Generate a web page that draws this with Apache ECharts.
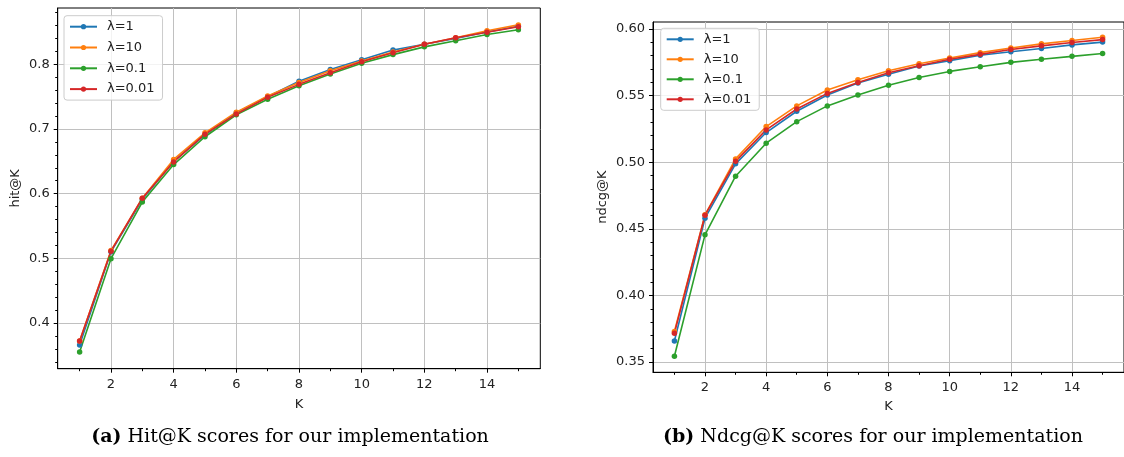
<!DOCTYPE html>
<html>
<head>
<meta charset="utf-8">
<script src="https://cdn.jsdelivr.net/npm/echarts@6/dist/echarts.min.js"></script>
<style>
html, body { margin: 0; padding: 0; background: #ffffff; }
#chart { width: 1124px; height: 457px; }
</style>
</head>
<body>
<div id="chart"></div>
<script>
// K values on the x axis
const kValues = [1, 2, 3, 4, 5, 6, 7, 8, 9, 10, 11, 12, 13, 14, 15];

// Series names (regularisation weight)
const seriesNames = ['λ=1', 'λ=10', 'λ=0.1', 'λ=0.01'];
const seriesColors = ['#1f77b4', '#ff7f0e', '#2ca02c', '#d62728'];

// hit@K per lambda
const hitLambda1   = [0.366, 0.510, 0.591, 0.650, 0.691, 0.725, 0.750, 0.774, 0.792, 0.807, 0.822, 0.831, 0.840, 0.850, 0.859];
const hitLambda10  = [0.372, 0.512, 0.593, 0.653, 0.694, 0.726, 0.751, 0.772, 0.790, 0.805, 0.819, 0.831, 0.841, 0.852, 0.861];
const hitLambda01  = [0.355, 0.4995, 0.587, 0.645, 0.688, 0.722, 0.746, 0.767, 0.785, 0.8015, 0.815, 0.827, 0.8365, 0.846, 0.8535];
const hitLambda001 = [0.372, 0.511, 0.593, 0.649, 0.692, 0.723, 0.749, 0.769, 0.787, 0.804, 0.818, 0.831, 0.841, 0.8495, 0.858];

// ndcg@K per lambda
const ndcgLambda1   = [0.3658, 0.458, 0.4988, 0.5223, 0.5383, 0.5505, 0.5595, 0.5661, 0.5722, 0.5763, 0.5803, 0.5830, 0.5854, 0.5881, 0.5902];
const ndcgLambda10  = [0.373, 0.4605, 0.5025, 0.5268, 0.5423, 0.5543, 0.5619, 0.5687, 0.5740, 0.5783, 0.5823, 0.5858, 0.5889, 0.5914, 0.5939];
const ndcgLambda01  = [0.3543, 0.4455, 0.4895, 0.5143, 0.5305, 0.5423, 0.5505, 0.5578, 0.5636, 0.5682, 0.5717, 0.5750, 0.5773, 0.5795, 0.5817];
const ndcgLambda001 = [0.3716, 0.4603, 0.5007, 0.5243, 0.5400, 0.5517, 0.5598, 0.5672, 0.5725, 0.5773, 0.5810, 0.5846, 0.5874, 0.5899, 0.5921];

// Tick positions and labels
const kTicks = [2, 4, 6, 8, 10, 12, 14];
const kTickLabels = ['2', '4', '6', '8', '10', '12', '14'];
const kMinorTicks = [1, 3, 5, 7, 9, 11, 13, 15];
const hitTicks = [0.4, 0.5, 0.6, 0.7, 0.8];
const hitTickLabels = ['0.4', '0.5', '0.6', '0.7', '0.8'];
const ndcgTicks = [0.35, 0.40, 0.45, 0.50, 0.55, 0.60];
const ndcgTickLabels = ['0.35', '0.40', '0.45', '0.50', '0.55', '0.60'];

// minor ticks between majors
function minorBetween(lo, hi, step, majors) {
  const out = [];
  const n = Math.round((hi - lo) / step);
  for (let i = 0; i <= n; i++) {
    const v = +(lo + i * step).toFixed(4);
    if (!majors.some(m => Math.abs(m - v) < 1e-6)) out.push(v);
  }
  return out;
}
const hitMinorTicks = minorBetween(0.34, 0.88, 0.02, hitTicks);
const ndcgMinorTicks = minorBetween(0.35, 0.60, 0.01, ndcgTicks);

const FONT = 'DejaVu Sans';
const SERIF = 'DejaVu Serif';
const TEXT_COLOR = '#222222';

function labelFor(ticks, labels) {
  return v => {
    const i = ticks.findIndex(t => Math.abs(t - v) < 1e-6);
    return i >= 0 ? labels[i] : '';
  };
}

function majorX(gridIndex, nameGap) {
  return {
    type: 'value', gridIndex, position: 'bottom', min: 0.3, max: 15.7,
    name: 'K', nameLocation: 'middle', nameGap,
    nameTextStyle: { fontFamily: FONT, fontSize: 13, color: TEXT_COLOR },
    axisLine: { show: true, onZero: false, lineStyle: { color: '#000', width: 1 } },
    axisTick: { show: true, inside: false, length: 4, customValues: kTicks, lineStyle: { color: '#000', width: 1 } },
    axisLabel: { show: true, customValues: kTicks, margin: 9, fontFamily: FONT, fontSize: 13, color: TEXT_COLOR,
                 formatter: labelFor(kTicks, kTickLabels) },
    splitLine: { show: true, lineStyle: { color: '#c0c0c0', width: 1 } }
  };
}
function minorX(gridIndex) {
  return {
    type: 'value', gridIndex, position: 'bottom', min: 0.3, max: 15.7,
    axisLine: { show: false },
    axisTick: { show: true, inside: false, length: 2.5, customValues: kMinorTicks, lineStyle: { color: '#000', width: 1 } },
    axisLabel: { show: false },
    splitLine: { show: false }
  };
}
function majorY(gridIndex, min, max, ticks, labels, name, nameGap) {
  return {
    type: 'value', gridIndex, position: 'left', min, max,
    name, nameLocation: 'middle', nameGap, nameRotate: 90,
    nameTextStyle: { fontFamily: FONT, fontSize: 13, color: TEXT_COLOR },
    axisLine: { show: true, onZero: false, lineStyle: { color: '#000', width: 1 } },
    axisTick: { show: true, inside: false, length: 4, customValues: ticks, lineStyle: { color: '#000', width: 1 } },
    axisLabel: { show: true, customValues: ticks, margin: 8, fontFamily: FONT, fontSize: 13, color: TEXT_COLOR,
                 formatter: labelFor(ticks, labels) },
    splitLine: { show: true, lineStyle: { color: '#c0c0c0', width: 1 } }
  };
}
function minorY(gridIndex, min, max, ticks) {
  return {
    type: 'value', gridIndex, position: 'left', min, max,
    axisLine: { show: false },
    axisTick: { show: true, inside: false, length: 2.5, customValues: ticks, lineStyle: { color: '#000', width: 1 } },
    axisLabel: { show: false },
    splitLine: { show: false }
  };
}

function lineSeries(name, color, values, gridIndex) {
  return {
    type: 'line', name,
    xAxisIndex: gridIndex * 2, yAxisIndex: gridIndex * 2,
    data: kValues.map((k, i) => [k, values[i]]),
    symbol: 'circle', symbolSize: 5.5, showSymbol: true,
    lineStyle: { color, width: 1.6 },
    itemStyle: { color, borderWidth: 0 },
    emphasis: { disabled: true },
    clip: false
  };
}

function legendAt(left, top, gap) {
  return {
    orient: 'vertical', left, top,
    data: seriesNames,
    selectedMode: false,
    itemWidth: 27, itemHeight: 6.5, itemGap: gap,
    padding: [4, 8, 4, 5],
    backgroundColor: 'rgba(255,255,255,0.8)',
    borderColor: '#cccccc', borderWidth: 1, borderRadius: 3,
    textStyle: { fontFamily: FONT, fontSize: 13, color: TEXT_COLOR, lineHeight: 14, padding: [0, 0, 0, 5] }
  };
}

function caption(x, tag, body) {
  return {
    type: 'text', x, y: 437,
    style: {
      text: '{b|' + tag + '} ' + body,
      x: 0, y: 0, align: 'center', verticalAlign: 'middle',
      fontFamily: SERIF, fontSize: 19, fill: '#000',
      rich: { b: { fontFamily: SERIF, fontSize: 19, fontWeight: 'bold', fill: '#000' } }
    }
  };
}

const hitSets = [hitLambda1, hitLambda10, hitLambda01, hitLambda001];
const ndcgSets = [ndcgLambda1, ndcgLambda10, ndcgLambda01, ndcgLambda001];

const chart = echarts.init(document.getElementById('chart'), null, { renderer: 'canvas' });
chart.setOption({
  animation: false,
  backgroundColor: '#ffffff',
  grid: [
    { left: 57.7, top: 8, width: 482.6, height: 360.7, show: true, borderColor: '#000', borderWidth: 1, backgroundColor: 'transparent' },
    { left: 653, top: 22, width: 472, height: 350.3, show: true, borderColor: '#000', borderWidth: 1, backgroundColor: 'transparent' }
  ],
  xAxis: [majorX(0, 29), minorX(0), majorX(1, 28), minorX(1)],
  yAxis: [
    majorY(0, 0.3293, 0.8871, hitTicks, hitTickLabels, 'hit@K', 36),
    minorY(0, 0.3293, 0.8871, hitMinorTicks),
    majorY(1, 0.3423, 0.6053, ndcgTicks, ndcgTickLabels, 'ndcg@K', 44),
    minorY(1, 0.3423, 0.6053, ndcgMinorTicks)
  ],
  legend: [legendAt(64, 15.7, 6.8), legendAt(660.7, 28.3, 6)],
  series: [
    ...seriesNames.map((n, i) => lineSeries(n, seriesColors[i], hitSets[i], 0)),
    ...seriesNames.map((n, i) => lineSeries(n, seriesColors[i], ndcgSets[i], 1))
  ],
  graphic: [
    caption(290, '(a)', 'Hit@K scores for our implementation'),
    caption(873, '(b)', 'Ndcg@K scores for our implementation')
  ]
});
</script>
</body>
</html>
